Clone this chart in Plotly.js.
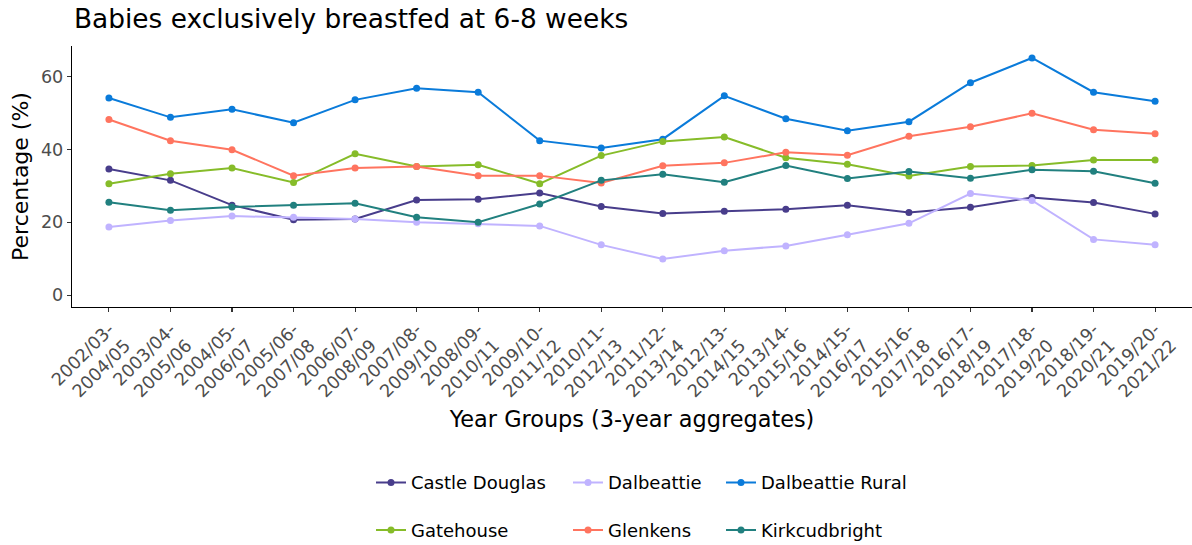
<!DOCTYPE html>
<html>
<head>
<meta charset="utf-8">
<script src="https://cdn.plot.ly/plotly-3.0.1.min.js"></script>
<style>html,body{margin:0;padding:0;background:#fff;}#chart{width:1192px;height:545px;}</style>
</head>
<body>
<div id="chart"></div>
<script>
const categories = ["2002/03-2004/05","2003/04-2005/06","2004/05-2006/07","2005/06-2007/08","2006/07-2008/09","2007/08-2009/10","2008/09-2010/11","2009/10-2011/12","2010/11-2012/13","2011/12-2013/14","2012/13-2014/15","2013/14-2015/16","2014/15-2016/17","2015/16-2017/18","2016/17-2018/19","2017/18-2019/20","2018/19-2020/21","2019/20-2021/22"];
const tickLabels = ["2002/03-<br>2004/05","2003/04-<br>2005/06","2004/05-<br>2006/07","2005/06-<br>2007/08","2006/07-<br>2008/09","2007/08-<br>2009/10","2008/09-<br>2010/11","2009/10-<br>2011/12","2010/11-<br>2012/13","2011/12-<br>2013/14","2012/13-<br>2014/15","2013/14-<br>2015/16","2014/15-<br>2016/17","2015/16-<br>2017/18","2016/17-<br>2018/19","2017/18-<br>2019/20","2018/19-<br>2020/21","2019/20-<br>2021/22"];

const castleDouglas   = [34.6, 31.5, 24.7, 20.7, 20.9, 26.1, 26.3, 28.0, 24.3, 22.4, 23.0, 23.6, 24.7, 22.7, 24.1, 26.8, 25.4, 22.3];
const dalbeattie      = [18.7, 20.5, 21.7, 21.4, 20.9, 20.0, 19.6, 19.0, 13.8, 9.9, 12.2, 13.5, 16.6, 19.7, 27.9, 26.0, 15.3, 13.8];
const dalbeattieRural = [54.1, 48.8, 51.0, 47.3, 53.6, 56.8, 55.7, 42.4, 40.4, 42.8, 54.7, 48.4, 45.1, 47.6, 58.3, 65.1, 55.7, 53.2];
const gatehouse       = [30.6, 33.3, 34.9, 30.9, 38.8, 35.3, 35.8, 30.6, 38.3, 42.2, 43.4, 37.7, 35.9, 32.7, 35.3, 35.6, 37.1, 37.1];
const glenkens        = [48.2, 42.4, 39.9, 32.8, 34.9, 35.3, 32.8, 32.8, 30.8, 35.5, 36.3, 39.2, 38.4, 43.6, 46.2, 49.9, 45.4, 44.3];
const kirkcudbright   = [25.5, 23.3, 24.2, 24.7, 25.2, 21.4, 20.0, 25.0, 31.5, 33.2, 31.0, 35.6, 32.0, 33.9, 32.1, 34.4, 34.0, 30.7];

const seriesNames = ["Castle Douglas","Dalbeattie","Dalbeattie Rural","Gatehouse","Glenkens","Kirkcudbright"];
const seriesValues = [castleDouglas, dalbeattie, dalbeattieRural, gatehouse, glenkens, kirkcudbright];
const seriesColors = ["#483D8B","#C0B3FF","#0A7BDA","#86BC29","#FF745F","#21807F"];
const legendIds = ["legend","legend2","legend3","legend4","legend5","legend6"];

const FONT = "DejaVu Sans, sans-serif";

const traces = seriesNames.map((name, i) => ({
  type: "scatter",
  mode: "lines+markers",
  name: name,
  x: categories,
  y: seriesValues[i],
  line: {color: seriesColors[i], width: 2},
  marker: {color: seriesColors[i], size: 7},
  legend: legendIds[i],
  showlegend: true
}));

const W = 1192, H = 545;
const colLeft = [371, 568, 721];
const rowY = [482.7, 530.3];
function legendAt(col, row) {
  return {
    xref: "container", yref: "container",
    x: colLeft[col] / W, xanchor: "left",
    y: 1 - rowY[row] / H, yanchor: "middle",
    orientation: "h",
    bgcolor: "rgba(0,0,0,0)",
    borderwidth: 0,
    font: {family: FONT, size: 18, color: "#000"}
  };
}

const layout = {
  width: W, height: H,
  margin: {l: 72, r: 0, t: 46, b: 238},
  paper_bgcolor: "#fff",
  plot_bgcolor: "#fff",
  font: {family: FONT, color: "#000"},
  title: {
    text: "Babies exclusively breastfed at 6-8 weeks",
    font: {family: FONT, size: 26.4, color: "#000"},
    xref: "container", yref: "container",
    x: 74 / W, xanchor: "left",
    y: 1 - 19 / H, yanchor: "middle"
  },
  xaxis: {
    type: "category",
    range: [-0.6, 17.6],
    tickvals: categories,
    ticktext: tickLabels,
    tickangle: -45,
    ticks: "outside", ticklen: 4, tickwidth: 1.1, tickcolor: "#333",
    showline: true, linecolor: "#000", linewidth: 1.2,
    showgrid: false, zeroline: false,
    tickfont: {family: FONT, size: 17.6, color: "#4D4D4D"},
    title: {text: "Year Groups (3-year aggregates)", font: {family: FONT, size: 22.4, color: "#000"}, standoff: 2}
  },
  yaxis: {
    range: [-3.26, 68.38],
    tickvals: [0, 20, 40, 60],
    ticks: "outside", ticklen: 4, tickwidth: 1.1, tickcolor: "#333",
    showline: true, linecolor: "#000", linewidth: 1.2,
    showgrid: false, zeroline: false,
    tickfont: {family: FONT, size: 17.6, color: "#4D4D4D"},
    title: {text: "Percentage (%)", font: {family: FONT, size: 22, color: "#000"}, standoff: 6}
  },
  legend: legendAt(0, 0),
  legend2: legendAt(1, 0),
  legend3: legendAt(2, 0),
  legend4: legendAt(0, 1),
  legend5: legendAt(1, 1),
  legend6: legendAt(2, 1)
};

Plotly.newPlot("chart", traces, layout, {displayModeBar: false, staticPlot: true});
</script>
</body>
</html>
